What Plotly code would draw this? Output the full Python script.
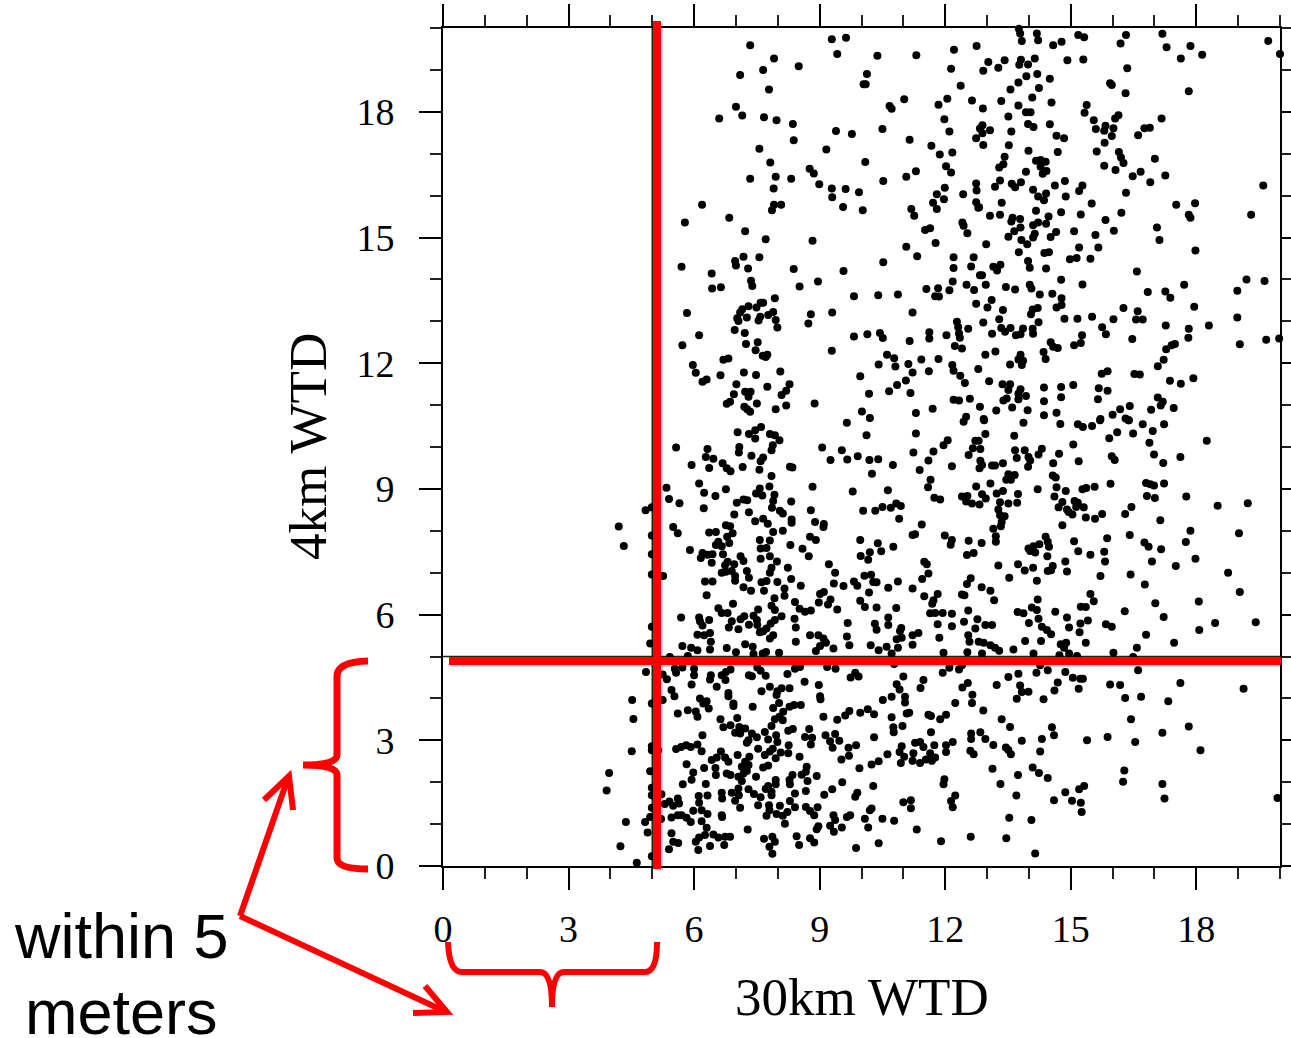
import plotly.graph_objects as go

# (30km WTD, 4km WTD), in metres
lower_left = [(4.95,5.31),(5.72,5.25),(5.93,5.21),(6.08,5.15),(6.38,5.17),(6.40,5.35),(6.78,5.20),(7.00,5.10),(7.22,5.29),(7.40,5.23),(7.42,5.06),(7.64,5.07),(7.72,5.11),(8.03,5.09),(8.43,5.35),(8.91,5.13),(9.01,5.25),(9.15,5.33),(9.33,5.19),(9.71,5.27),(10.22,5.27),(10.41,5.15),(10.60,5.23),(10.87,5.21),(10.72,5.07),(11.22,5.28),(5.42,4.99),(5.85,5.01),
(4.85,4.63),(5.25,4.57),(5.35,4.46),(5.57,4.61),(5.54,4.71),(5.72,4.74),(6.00,4.71),(6.00,4.55),(5.94,4.33),(6.40,4.55),(6.38,4.45),(6.54,4.28),(6.66,4.55),(6.75,4.44),(6.76,4.63),(6.87,4.69),(7.31,4.55),(7.38,4.53),(7.51,4.74),(7.59,4.66),(7.71,4.54),(8.23,4.58),(8.41,4.71),(8.53,4.75),(8.64,4.40),(8.98,4.32),(9.18,4.75),(9.38,4.71),(9.74,4.50),(9.85,4.61),(9.93,4.52),(10.78,4.82),(11.00,4.52),(10.84,4.34),(10.91,4.21),(11.48,4.44),(11.41,4.25),
(5.46,4.20),(5.53,4.05),(5.25,3.96),(4.99,3.88),(4.52,3.96),(4.55,3.51),(5.61,3.64),(5.85,3.72),(6.04,3.69),(6.08,3.56),(6.14,4.00),(6.30,3.93),(6.22,3.88),(6.35,3.76),(6.82,4.13),(6.82,4.05),(6.94,3.88),(6.94,3.82),(7.40,3.80),(7.61,4.17),(7.81,4.28),(7.97,4.08),(7.99,4.17),(8.09,4.24),(8.28,4.24),(8.03,3.89),(7.89,3.77),(8.28,3.80),(8.39,3.84),(8.55,3.84),(9.01,4.05),(9.02,3.98),(9.09,3.56),(9.42,3.49),(9.61,3.59),(9.71,3.70),(9.97,3.66),(10.15,3.74),(10.30,3.62),(10.51,3.96),(10.72,4.04),(11.04,4.04),(11.04,3.90),(11.08,3.64),(11.14,3.66),(10.72,3.55),(11.60,3.61),(11.66,3.58),(11.88,3.50),
(6.63,3.50),(6.70,3.31),(6.87,3.36),(7.03,3.53),(7.08,3.32),(6.98,3.18),(7.10,3.16),(7.22,3.28),(7.38,3.16),(7.50,3.07),(7.30,3.00),(7.26,2.94),(7.85,3.34),(7.69,3.20),(7.93,3.50),(8.04,3.56),(8.13,3.68),(8.12,3.48),(7.77,3.02),(7.96,3.12),(7.99,2.96),(8.25,3.23),(8.36,3.27),(8.75,3.27),(8.65,3.08),(8.82,3.06),(8.79,2.90),(9.14,3.12),(9.37,3.15),(9.25,2.98),(9.47,2.99),(9.31,2.82),(9.69,2.82),(9.87,2.88),(9.70,2.63),(9.52,2.54),(10.30,3.07),(10.62,2.67),(10.41,2.50),(10.24,2.42),(9.95,2.33),
(10.76,3.31),(10.77,3.19),(10.98,3.34),(11.66,3.19),(10.96,2.86),(10.91,2.72),(11.02,2.61),(10.94,2.46),(11.28,2.94),(11.40,2.96),(11.48,2.84),(11.24,2.69),(11.22,2.51),(11.40,2.46),(11.54,2.54),(11.68,2.51),(11.64,2.69),(11.76,2.59),(11.74,2.88),
(6.20,3.12),(6.08,2.90),(6.18,2.74),(5.57,2.79),(5.69,2.84),(5.81,2.88),(5.92,2.84),(4.51,2.74),(4.99,2.86),(4.99,2.76),(5.14,2.76),
(6.64,2.73),(6.42,2.53),(6.54,2.59),(6.74,2.59),(6.82,2.49),(7.04,2.65),(7.32,2.61),(7.53,2.80),(7.69,2.65),(7.81,2.73),(7.88,2.80),(7.95,2.57),(8.07,2.71),(8.26,2.88),(8.25,2.69),(8.52,2.61),
(5.82,2.43),(6.24,2.34),(6.51,2.34),(6.52,2.17),(6.78,2.21),(6.87,2.17),(5.98,2.23),(5.94,2.06),(5.73,1.95),(6.28,1.96),(7.22,2.49),(7.30,2.41),(7.14,2.37),(7.26,2.27),(7.18,2.21),(7.06,2.13),(7.14,2.03),(7.48,2.13),(7.65,2.35),(7.77,2.40),(4.95,2.26),(3.97,2.22),(3.91,1.80),
(8.69,2.37),(8.67,2.25),(8.57,2.18),(8.93,2.15),(8.71,2.03),(8.35,2.17),(8.28,2.05),(8.29,1.95),(7.95,2.05),(7.95,1.95),(7.77,1.91),(7.71,1.84),(7.06,1.85),(7.30,1.83),(7.43,1.72),(7.59,1.64),(7.85,1.77),(7.85,1.69),(8.41,1.73),(8.67,1.79),(9.11,1.70),(9.30,1.83),(9.54,2.00),(10.28,1.91),(9.90,1.75),(9.85,1.65),
(6.66,1.75),(6.67,1.61),(6.90,1.75),(7.07,1.69),(6.98,1.56),(7.10,1.39),(6.32,1.68),(6.11,1.67),(6.12,1.51),(5.61,1.61),(5.64,1.49),(5.41,1.54),(5.30,1.48),(5.50,1.44),(5.22,1.71),(4.99,1.69),(4.99,1.87),(4.99,1.39),
(7.53,1.45),(7.79,1.45),(7.80,1.33),(8.05,1.44),(8.29,1.55),(8.41,1.40),(8.67,1.41),(8.95,1.40),(8.77,1.31),(8.87,1.21),(7.73,1.20),(7.97,1.24),(8.12,1.20),(8.23,1.29),(8.17,1.01),
(11.00,1.52),(11.18,1.57),(11.18,1.38),(10.24,1.37),(10.20,1.33),(9.33,1.21),(9.65,1.17),(9.73,1.21),(10.08,1.13),(10.50,1.13),(10.78,1.08),(10.16,0.92),(11.32,0.87),(9.53,0.92),(9.37,1.10),(9.25,0.96),(9.34,0.82),(8.97,0.95),(8.93,0.88),
(5.98,1.32),(6.18,1.33),(6.32,1.24),(6.18,1.07),(6.30,0.91),(5.46,1.16),(5.61,1.21),(5.70,1.21),(5.82,1.15),(5.92,1.05),(6.66,1.21),(6.67,1.17),(5.21,1.12),(4.95,1.17),(4.83,1.05),(4.37,1.05),(4.89,0.80),(7.28,0.87),(5.46,0.78),(5.50,0.58),(5.62,0.55),(5.40,0.40),(4.24,0.47),(4.99,0.23),(4.63,0.08),
(6.04,0.58),(6.12,0.68),(6.26,0.74),(6.46,0.75),(6.58,0.68),(6.74,0.70),(6.86,0.70),(6.38,0.48),(6.10,0.38),(6.72,0.50),
(7.67,0.65),(7.87,0.70),(7.93,0.58),(7.80,0.46),(7.87,0.29),(8.45,0.71),(8.51,0.50),(8.77,0.66),(8.87,0.56),(9.87,0.43),(10.41,0.54)]

lower_right = [(12.58,5.35),(12.80,5.35),(12.92,5.33),(13.08,5.27),(13.19,5.21),(13.29,5.14),(11.96,5.09),(12.53,5.10),(12.88,5.07),(13.63,5.17),(13.91,5.37),(14.29,5.37),(14.11,5.07),(14.76,5.29),(14.89,5.33),(14.84,5.21),(15.36,5.33),(14.73,5.03),(14.96,5.07),(15.15,5.01),(16.02,5.09),(16.58,5.21),(16.49,4.99),(17.47,5.33),
(11.94,4.61),(12.10,4.73),(12.33,4.69),(12.40,4.79),(13.75,4.59),(14.18,4.61),(14.27,4.79),(14.45,4.67),(14.87,4.63),(13.51,4.51),(15.05,4.49),(15.23,4.47),(15.29,4.47),(16.61,4.67),(12.54,4.37),(12.41,4.26),(13.23,4.32),(13.79,4.31),(13.83,4.15),(13.99,4.16),(14.69,4.38),(14.61,4.19),(15.19,4.23),(15.94,4.33),(16.18,4.32),(17.62,4.37),(19.13,4.23),(12.65,4.09),(12.64,3.89),(12.24,3.89),(13.71,3.99),(14.35,3.98),(16.30,4.01),(16.68,4.04),(17.33,3.93),(12.91,3.71),(12.02,3.61),(13.35,3.50),(13.55,3.32),(14.55,3.31),(14.60,3.12),(16.44,3.50),(17.82,3.33),(17.19,3.18),(12.84,3.19),(12.62,3.16),(12.62,3.03),(12.96,3.03),(13.15,2.89),(13.83,2.99),(14.31,3.03),(15.39,3.00),(15.88,3.08),(16.54,2.96),(12.18,2.96),(12.02,2.88),(12.02,2.72),(12.60,2.75),(12.68,2.67),(13.45,2.83),(13.51,2.77),(13.57,2.67),(14.27,2.73),(18.10,2.76),(13.13,2.32),(14.09,2.35),(14.24,2.22),(13.74,2.17),(14.45,2.10),(16.28,2.28),(16.25,2.01),(17.19,1.96),(17.24,1.61),(11.98,2.07),(11.96,1.95),(13.32,1.96),(15.32,1.91),(15.20,1.83),(14.87,1.76),(13.70,1.68),(12.24,1.68),(12.14,1.55),(12.18,1.40),(14.60,1.57),(15.03,1.56),(15.24,1.51),(15.26,1.29),(13.53,1.15),(14.06,1.10),(12.61,0.70),(13.46,0.66),(11.90,0.59),(14.15,0.30),(19.94,1.62)]

middle_left = [(9.65,10.58),(10.12,10.28),(11.30,10.32),(7.04,10.35),(7.31,10.31),(7.46,10.40),(7.60,10.48),(7.46,10.20),(7.81,10.31),(7.93,10.28),(8.04,10.16),(5.57,9.99),(6.32,9.95),(7.08,10.00),(7.07,9.87),(7.88,10.04),(7.85,9.92),(9.06,9.99),(9.53,9.92),(11.24,9.87),(11.72,9.89),(6.28,9.76),(6.46,9.72),(7.37,9.79),(7.65,9.75),(7.59,9.66),(9.26,9.69),(9.66,9.70),(9.91,9.78),(10.19,9.69),(10.40,9.71),(10.75,9.57),(11.60,9.68),(5.94,9.57),(6.36,9.50),(6.68,9.61),(6.78,9.49),(6.87,9.42),(7.16,9.52),(7.56,9.46),(8.29,9.53),(8.35,9.51),(11.39,9.45),(7.85,9.31),(10.25,9.36),(11.65,9.22),(6.12,9.13),(5.34,9.03),(6.24,8.91),(6.76,8.99),(7.57,9.01),(7.80,9.06),(8.83,9.05),(9.79,8.94),(10.63,8.97),(11.59,9.04),(5.40,8.76),(6.51,8.83),(7.48,8.89),(7.63,8.84),(7.92,8.86),(7.89,8.71),(7.18,8.75),(7.27,8.73),(7.02,8.67),(5.65,8.66),(8.32,8.70),(11.74,8.79),(4.84,8.49),(4.99,8.56),(6.23,8.54),(7.86,8.55),(8.05,8.48),(8.12,8.41),(7.31,8.44),(6.96,8.39),(8.79,8.49),(10.04,8.48),(10.33,8.48),(10.50,8.57),(10.70,8.55),(10.83,8.65),(10.94,8.59),(10.90,8.29),(7.46,8.23),(7.65,8.29),(7.76,8.17),(8.33,8.27),(8.33,8.19),(8.89,8.21),(9.10,8.16),(9.09,8.09),(4.20,8.10),(5.50,8.09),(6.76,8.13),(6.86,8.11),(11.44,8.15),(5.61,7.94),(6.36,7.96),(6.52,7.97),(6.92,7.94),(6.79,7.86),(7.89,7.97),(8.12,8.00),(4.99,7.89),(8.77,7.86),(8.91,7.78),(11.22,7.90),(11.28,7.92),(4.32,7.64),(6.58,7.74),(6.52,7.66),(6.66,7.63),(6.84,7.71),(7.57,7.78),(7.81,7.77),(7.59,7.58),(7.73,7.59),(8.30,7.66),(8.59,7.57),(9.97,7.78),(10.39,7.70),(10.76,7.62),(5.90,7.54),(4.99,7.44),(6.20,7.47),(6.16,7.35),(6.32,7.43),(6.44,7.44),(6.69,7.44),(7.11,7.39),(7.18,7.28),(7.59,7.33),(7.81,7.39),(8.74,7.39),(9.98,7.40),(10.20,7.49),(10.47,7.51),(10.16,7.31),(6.42,7.24),(6.80,7.26),(6.74,7.18),(6.96,7.20),(7.98,7.27),(11.50,7.26),(11.56,7.20),(9.22,7.20),(6.66,7.00),(6.76,7.02),(6.90,7.04),(7.26,7.04),(7.85,7.12),(7.81,7.00),(8.24,7.12),(9.37,7.00),(11.60,6.98),(4.99,6.96),(5.26,6.92),(10.07,6.93),(10.23,6.95),(11.45,6.85),(6.98,6.92),(6.98,6.81),(7.31,6.88),(8.32,6.85),(9.82,6.79),(9.90,6.69),(10.28,6.78),(10.36,6.77),(10.87,6.79),(6.26,6.79),(6.44,6.79),(7.61,6.77),(7.73,6.80),(7.99,6.78),(8.55,6.69),(9.34,6.74),(9.57,6.68),(10.64,6.64),(11.22,6.62),(7.18,6.65),(7.36,6.57),(7.67,6.57),(8.16,6.62),(10.18,6.53),(6.30,6.46),(8.16,6.45),(7.92,6.39),(9.01,6.49),(9.10,6.54),(11.50,6.44),(11.82,6.49),(11.72,6.34),(11.69,6.26),(6.93,6.26),(8.41,6.30),(8.98,6.29),(9.26,6.36),(9.20,6.24),(9.97,6.33),(7.85,6.21),(6.58,6.15),(7.53,6.12),(7.93,6.11),(8.52,6.14),(8.79,6.10),(8.65,6.07),(9.42,6.12),(10.08,6.18),(10.36,6.17),(10.83,6.16),(6.66,6.04),(6.80,6.04),(11.64,6.03),(11.76,6.04),(5.69,5.93),(6.12,5.93),(6.14,5.84),(6.36,5.87),(6.20,5.74),(7.20,5.96),(7.11,5.89),(6.90,5.84),(7.42,5.97),(7.50,5.87),(8.09,5.96),(8.40,5.90),(7.93,5.87),(7.83,5.79),(9.67,5.80),(10.64,5.93),(10.64,5.75),(11.82,5.77),(10.32,5.78),(10.36,5.64),(10.95,5.68),(4.99,5.71),(6.83,5.69),(7.06,5.65),(7.31,5.76),(7.51,5.75),(7.73,5.67),(7.57,5.58),(7.65,5.60),(8.43,5.69),(6.08,5.52),(6.24,5.51),(6.38,5.56),(7.89,5.51),(7.81,5.43),(8.77,5.51),(8.97,5.51),(9.09,5.43),(9.65,5.48),(10.92,5.61),(11.36,5.56),(11.22,5.51),(10.96,5.45),(10.84,5.41),(11.86,5.45)]

middle_right = [(12.44,10.60),(12.93,10.64),(13.87,10.58),(14.75,10.55),(15.17,10.54),(15.29,10.48),(15.51,10.50),(15.70,10.64),(16.38,10.64),(16.72,10.54),(17.23,10.54),(16.96,10.38),(16.49,10.32),(16.11,10.35),(15.92,10.21),(12.96,10.31),(13.65,10.27),(12.06,10.16),(11.96,10.04),(12.72,10.15),(12.80,10.15),(12.66,9.97),(12.84,9.95),(12.56,9.81),(13.67,9.92),(13.90,9.92),(14.31,9.96),(14.23,9.82),(14.72,9.84),(15.06,10.06),(16.88,10.10),(18.25,10.15),(16.99,9.82),(15.98,9.78),(16.05,9.69),(17.62,9.76),(13.71,9.74),(13.99,9.76),(14.03,9.68),(12.84,9.67),(13.38,9.61),(14.58,9.61),(15.19,9.66),(17.21,9.62),(12.16,9.54),(12.88,9.57),(12.82,9.49),(13.12,9.56),(13.19,9.56),(13.98,9.53),(13.51,9.35),(13.66,9.33),(13.46,9.22),(13.57,9.22),(14.57,9.32),(14.64,9.27),(13.08,9.13),(12.74,9.06),(14.66,9.04),(15.57,9.05),(15.37,9.02),(15.28,8.99),(15.95,9.12),(16.80,9.14),(16.90,9.11),(16.99,9.08),(17.23,9.13),(14.21,8.99),(14.88,8.95),(13.38,8.95),(13.23,8.89),(13.74,8.88),(12.88,8.87),(12.40,8.82),(12.53,8.83),(12.97,8.77),(14.61,8.82),(16.82,8.83),(17.01,8.78),(17.76,8.82),(11.88,8.75),(12.50,8.70),(12.64,8.65),(12.82,8.63),(13.31,8.68),(13.51,8.65),(13.72,8.67),(14.80,8.69),(15.09,8.71),(15.17,8.67),(14.71,8.56),(15.13,8.57),(15.31,8.56),(18.51,8.60),(19.23,8.66),(16.45,8.57),(13.27,8.51),(14.91,8.51),(14.95,8.45),(15.04,8.39),(16.30,8.40),(15.75,8.40),(15.36,8.32),(15.58,8.29),(17.14,8.25),(13.31,8.37),(13.42,8.35),(13.35,8.21),(13.33,8.11),(13.15,8.05),(14.80,8.13),(17.86,8.00),(19.02,7.94),(11.99,7.89),(12.16,7.78),(12.13,7.67),(12.56,7.76),(12.87,7.71),(13.21,7.87),(13.21,7.74),(16.41,7.90),(15.87,7.82),(15.08,7.75),(14.40,7.86),(14.45,7.74),(14.48,7.62),(14.25,7.68),(14.11,7.63),(13.99,7.58),(14.03,7.52),(14.15,7.48),(16.76,7.72),(16.86,7.62),(17.16,7.56),(17.75,7.73),(15.18,7.51),(15.80,7.50),(15.47,7.43),(12.68,7.47),(12.52,7.42),(14.44,7.39),(17.98,7.33),(14.87,7.27),(15.82,7.27),(16.94,7.27),(13.27,7.17),(13.74,7.20),(14.10,7.12),(13.90,7.05),(14.57,7.16),(14.45,7.04),(14.53,7.06),(14.91,7.03),(17.51,7.16),(18.76,7.00),(16.43,6.96),(15.71,6.92),(13.53,6.88),(14.19,6.81),(12.61,6.87),(12.52,6.73),(16.77,6.72),(12.87,6.65),(13.08,6.57),(19.04,6.54),(12.40,6.48),(12.46,6.46),(15.47,6.49),(14.21,6.36),(13.17,6.34),(15.55,6.32),(18.06,6.31),(17.02,6.27),(15.24,6.19),(15.36,6.18),(14.07,6.17),(14.19,6.11),(14.63,6.07),(16.29,6.08),(12.55,6.10),(11.94,6.04),(12.16,6.02),(13.73,6.06),(13.87,6.03),(17.22,5.94),(14.91,5.93),(14.23,5.90),(12.77,5.89),(12.45,5.83),(15.41,5.86),(15.23,5.79),(14.00,5.80),(15.84,5.77),(15.98,5.71),(18.45,5.80),(19.42,5.82),(12.96,5.75),(13.12,5.75),(12.16,5.72),(12.72,5.67),(14.31,5.71),(14.43,5.63),(14.96,5.69),(18.07,5.63),(12.55,5.51),(14.53,5.53),(15.21,5.58),(16.80,5.52)]

upper_left = [(7.34,19.59),(9.29,19.73),(9.63,19.77),(9.42,19.38),(10.38,19.34),(11.31,19.35),(12.21,19.48),(12.75,19.57),(7.91,19.27),(8.50,19.09),(7.65,19.00),(7.10,18.88),(10.13,18.90),(12.14,19.03),(10.05,18.66),(10.10,18.66),(12.37,18.62),(7.79,18.53),(11.02,18.30),(12.05,18.31),(12.64,18.27),(10.67,18.14),(10.72,18.07),(11.84,18.17),(7.00,18.12),(7.15,17.91),(6.60,17.84),(7.67,17.87),(7.97,17.80),(11.98,17.82),(8.36,17.71),(9.39,17.54),(9.77,17.47),(10.50,17.59),(12.10,17.53),(12.83,17.60),(11.15,17.33),(12.74,17.37),(8.38,17.32),(7.56,17.12),(9.16,17.10),(11.67,17.19),(11.87,16.98),(12.17,17.03),(7.82,16.79),(10.09,16.80),(12.02,16.70),(12.14,16.55),(8.76,16.64),(8.86,16.53),(11.30,16.58),(11.07,16.45),(7.34,16.40),(7.95,16.45),(8.32,16.40),(10.52,16.35),(8.99,16.27),(7.90,16.17),(9.29,16.17),(9.62,16.16),(9.94,16.08),(11.99,16.19),(12.74,16.29),(12.75,16.12),(11.80,16.03),(12.43,16.03),(9.30,15.96),(11.97,15.91),(11.71,15.83),(12.74,15.84),(6.19,15.78),(7.91,15.78),(8.08,15.78),(7.86,15.65),(9.56,15.73),(10.03,15.65),(11.19,15.68),(11.80,15.68),(12.79,15.71),(11.26,15.52),(6.84,15.47),(5.78,15.36),(12.41,15.36),(12.44,15.28),(11.52,15.18),(11.64,15.22),(7.22,15.15),(12.53,15.10),(7.71,14.96),(8.83,14.92),(11.77,14.87),(11.07,14.78),(7.18,14.54),(7.56,14.53),(11.33,14.55),(12.20,14.53),(12.68,14.53),(6.98,14.44),(7.00,14.33),(10.52,14.41),(7.29,14.26),(5.70,14.30),(8.38,14.25),(9.57,14.20),(12.20,14.27),(12.62,14.31),(6.42,14.14),(12.83,14.10),(7.36,13.97),(7.39,13.84),(8.96,13.95),(12.18,13.95),(6.43,13.78),(6.64,13.81),(8.52,13.83),(11.55,13.77),(11.83,13.79),(12.10,13.74),(12.51,13.87),(12.69,13.75),(9.82,13.60),(10.40,13.62),(10.87,13.64),(11.76,13.60),(11.85,13.59),(7.93,13.55),(7.65,13.44),(7.59,13.44),(7.49,13.33),(7.30,13.36),(7.15,13.29),(7.10,13.21),(12.74,13.42),(5.83,13.20),(7.89,13.22),(7.77,13.15),(8.79,13.17),(9.30,13.21),(11.22,13.21),(7.03,13.07),(7.06,13.01),(7.26,13.09),(7.58,13.11),(7.54,13.02),(7.95,13.03),(7.99,12.85),(8.73,12.95),(12.28,12.99),(12.31,12.86),(12.55,12.82),(6.97,12.79),(7.21,12.72),(6.12,12.67),(9.82,12.64),(10.14,12.69),(10.44,12.72),(10.51,12.60),(11.62,12.74),(11.62,12.59),(12.03,12.67),(12.33,12.71),(12.35,12.61),(11.15,12.53),(5.72,12.43),(7.24,12.46),(7.52,12.50),(12.23,12.41),(12.40,12.35),(7.47,12.31),(9.29,12.30),(7.75,12.20),(7.64,12.18),(7.71,12.15),(10.61,12.20),(10.78,12.12),(6.70,12.08),(6.82,12.11),(11.43,12.09),(11.84,12.10),(5.97,11.96),(10.41,11.97),(10.81,11.92),(11.12,11.98),(12.17,11.96),(12.20,11.82),(12.79,11.86),(6.04,11.77),(7.19,11.78),(7.48,11.72),(8.06,11.80),(6.63,11.71),(11.61,11.81),(11.22,11.78),(12.36,11.70),(6.30,11.61),(6.20,11.56),(9.97,11.69),(11.06,11.59),(12.47,11.53),(7.01,11.50),(8.28,11.50),(7.75,11.44),(10.85,11.48),(7.22,11.32),(7.35,11.32),(7.30,11.20),(8.20,11.34),(8.09,11.24),(6.95,11.26),(10.18,11.27),(10.66,11.33),(11.17,11.29),(12.20,11.13),(12.33,11.11),(12.59,11.15),(12.83,10.96),(6.86,11.08),(6.78,11.03),(7.50,11.04),(8.20,10.99),(8.88,11.04),(7.20,10.96),(7.27,10.90),(7.34,10.84),(7.95,10.90),(10.01,10.85),(10.20,10.69),(11.70,10.91),(11.30,10.81),(12.50,10.72)]

upper_right = [(13.76,19.98),(13.79,19.87),(13.83,19.69),(14.19,19.87),(14.22,19.71),(14.58,19.59),(14.78,19.67),(15.18,19.83),(15.32,19.78),(16.32,19.83),(16.19,19.63),(17.19,19.86),(17.29,19.54),(17.86,19.57),(19.72,19.69),(20.0,19.38),(17.63,19.27),(18.14,19.36),(13.03,19.19),(13.42,19.23),(13.81,19.24),(13.77,19.12),(13.98,19.13),(14.14,19.27),(14.92,19.23),(15.30,19.25),(13.27,19.05),(12.91,18.98),(16.35,19.04),(14.20,18.90),(13.94,18.85),(14.50,18.79),(13.75,18.70),(15.94,18.68),(15.98,18.64),(14.24,18.57),(13.56,18.53),(17.82,18.49),(16.31,18.44),(14.08,18.34),(13.34,18.26),(14.54,18.22),(13.75,18.15),(15.38,18.16),(12.90,18.08),(13.93,17.99),(14.04,17.99),(15.33,17.98),(16.14,17.92),(16.06,17.84),(13.51,17.89),(17.17,17.84),(15.55,17.80),(12.89,17.68),(13.98,17.71),(14.11,17.64),(14.50,17.70),(15.83,17.67),(15.60,17.59),(15.80,17.55),(16.02,17.61),(16.76,17.61),(16.89,17.62),(13.07,17.56),(12.89,17.49),(13.58,17.53),(14.66,17.43),(14.84,17.37),(15.98,17.42),(16.61,17.44),(15.81,17.26),(12.91,17.21),(13.52,17.20),(13.99,17.07),(14.69,17.04),(15.62,17.05),(16.15,17.04),(16.20,16.91),(13.42,16.93),(17.01,16.88),(16.26,16.78),(14.17,16.83),(14.28,16.85),(14.40,16.81),(13.39,16.75),(13.29,16.67),(14.28,16.69),(15.80,16.71),(13.93,16.57),(14.42,16.59),(14.33,16.52),(16.07,16.61),(16.67,16.57),(16.48,16.46),(17.26,16.48),(13.31,16.36),(13.81,16.32),(14.86,16.35),(16.90,16.32),(19.60,16.24),(13.19,16.21),(13.59,16.28),(13.67,16.20),(14.62,16.24),(15.28,16.24),(14.10,16.14),(15.20,16.11),(16.32,16.07),(14.41,16.05),(14.22,15.98),(14.88,15.98),(14.36,15.89),(13.35,15.83),(15.50,15.81),(17.52,15.78),(17.97,15.82),(12.81,15.72),(14.17,15.64),(14.77,15.60),(16.21,15.59),(13.07,15.52),(13.31,15.54),(14.47,15.50),(15.24,15.55),(19.31,15.54),(17.82,15.54),(17.86,15.47),(13.61,15.47),(13.79,15.44),(13.58,15.38),(15.83,15.42),(14.22,15.36),(14.41,15.33),(14.10,15.29),(13.80,15.24),(17.06,15.24),(13.65,15.15),(14.65,15.13),(15.08,15.15),(16.03,15.16),(14.14,15.09),(14.10,15.00),(14.52,15.01),(15.59,15.06),(13.51,15.02),(13.82,14.94),(13.96,14.84),(17.12,14.94),(12.98,14.84),(15.20,14.76),(15.66,14.76),(13.76,14.65),(14.37,14.63),(14.48,14.65),(17.98,14.69),(14.98,14.48),(15.14,14.51),(15.47,14.49),(13.98,14.44),(13.32,14.35),(13.15,14.30),(14.02,14.28),(14.41,14.26),(13.24,14.21),(16.58,14.19),(12.88,14.10),(14.77,13.99),(19.20,14.00),(19.63,13.96),(12.97,13.87),(15.28,13.88),(17.71,13.87),(13.45,13.82),(14.02,13.87),(14.06,13.78),(13.67,13.76),(18.98,13.73),(16.84,13.70),(17.26,13.71),(14.26,13.64),(14.56,13.66),(17.38,13.56),(14.78,13.55),(13.11,13.51),(14.78,13.39),(14.66,13.33),(13.01,13.33),(17.95,13.35),(14.21,13.32),(13.38,13.27),(14.09,13.28),(14.05,13.17),(16.26,13.32),(16.60,13.24),(13.29,13.05),(15.51,13.11),(14.85,13.06),(15.16,13.06),(16.02,13.05),(16.56,13.04),(16.72,13.04),(18.98,13.09),(12.91,12.97),(14.23,12.98),(17.27,12.90),(18.30,12.90),(15.75,12.86),(13.34,12.84),(13.56,12.84),(13.86,12.83),(14.09,12.82),(13.43,12.75),(17.82,12.82),(13.12,12.70),(13.69,12.67),(13.80,12.69),(14.10,12.70),(15.27,12.67),(15.84,12.69),(17.81,12.61),(16.47,12.58),(19.67,12.56),(19.98,12.59),(19.04,12.45),(15.24,12.48),(15.08,12.43),(14.52,12.50),(14.58,12.39),(14.69,12.36),(17.49,12.46),(17.41,12.43),(17.28,12.33),(13.20,12.28),(14.35,12.27),(12.96,12.20),(13.80,12.20),(14.40,12.10),(13.75,12.09),(13.86,12.06),(17.22,12.08),(13.83,11.96),(13.55,11.97),(17.08,11.93),(15.88,11.81),(15.74,11.75),(16.52,11.74),(16.65,11.73),(17.93,11.64),(13.05,11.57),(17.37,11.58),(17.63,11.51),(13.37,11.50),(13.55,11.50),(15.06,11.48),(14.36,11.42),(14.77,11.43),(13.80,11.38),(13.51,11.36),(15.67,11.40),(15.88,11.34),(13.75,11.27),(13.93,11.22),(14.77,11.19),(17.08,11.18),(13.75,11.14),(13.47,11.16),(13.39,11.11),(15.65,11.14),(14.36,11.09),(17.20,11.08),(17.15,10.99),(16.41,10.98),(13.60,10.94),(16.18,10.90),(17.46,10.93),(13.22,10.87),(13.97,10.88),(16.92,10.89),(14.66,10.82),(14.36,10.76),(16.00,10.77),(12.92,10.67),(15.71,10.67),(16.31,10.68),(16.39,10.64)]

x_title = "30km WTD"
y_title = "4km WTD"
tick_values = [0, 3, 6, 9, 12, 15, 18]
threshold = 5

points = lower_left + lower_right + middle_left + middle_right + upper_left + upper_right
x_values = [p[0] for p in points]
y_values = [p[1] for p in points]

W, H = 1291, 1038
L, R, T, B = 443, 1280, 28, 866
SERIF = "Liberation Serif"
RED = "#ff0000"

def px(x):
    return x / W
def py(y):
    return 1 - y / H
def path(pts):
    return " ".join(("M" if i == 0 else "L") + f"{px(a):.5f},{py(b):.5f}" for i, (a, b) in enumerate(pts))
def curve(start, *segs):
    s = f"M{px(start[0]):.5f},{py(start[1]):.5f}"
    for c, e in segs:
        s += f" Q{px(c[0]):.5f},{py(c[1]):.5f} {px(e[0]):.5f},{py(e[1]):.5f}"
    return s

def red_path(p, w):
    return dict(type="path", xref="paper", yref="paper", path=p, line=dict(color=RED, width=w), layer="above")

left_brace = curve((368,661), ((337,662),(337,676)), ((337,720),(337,755)), ((337,765),(303,765)),
                   ((337,765),(337,775)), ((337,820),(337,858)), ((337,869),(368,869)))
bottom_brace = curve((448,942), ((449,972),(462,972)), ((500,972),(540,972)), ((552,972),(552,1007)),
                     ((552,972),(564,972)), ((610,972),(645,972)), ((657,972),(657,942)))
arrow_up = path([(240,916),(288,778)])
arrow_up_head = path([(264,800),(289,776),(293,810)])
arrow_down = path([(240,916),(444,1011)])
arrow_down_head = path([(425,986),(447,1012),(413,1013)])

shapes = [
    dict(type="line", xref="x", yref="y", x0=threshold, x1=threshold, y0=0, y1=20, line=dict(color="#222222", width=1.5), layer="below"),
    dict(type="line", xref="x", yref="y", x0=0, x1=20, y0=threshold, y1=threshold, line=dict(color="#222222", width=1.5), layer="below"),
    dict(type="line", xref="paper", yref="paper", x0=px(659), x1=px(659), y0=py(23), y1=py(870), line=dict(color="rgba(0,0,0,0.13)", width=8), layer="above"),
    dict(type="line", xref="paper", yref="paper", x0=px(450), x1=px(1282), y0=py(663), y1=py(663), line=dict(color="rgba(0,0,0,0.13)", width=8), layer="above"),
    dict(type="line", xref="paper", yref="paper", x0=px(657), x1=px(657), y0=py(21), y1=py(869), line=dict(color=RED, width=8), layer="above"),
    dict(type="line", xref="paper", yref="paper", x0=px(449), x1=px(1281), y0=py(661), y1=py(661), line=dict(color=RED, width=8), layer="above"),
    red_path(left_brace, 7), red_path(bottom_brace, 6),
    red_path(arrow_up, 6), red_path(arrow_up_head, 6),
    red_path(arrow_down, 6), red_path(arrow_down_head, 6),
]

axis = dict(range=[0, 20], tickmode="array", tickvals=tick_values, ticktext=[str(v) for v in tick_values],
            showgrid=False, zeroline=False, showline=True, linecolor="black", linewidth=2, mirror="ticks",
            ticks="outside", ticklen=22, tickwidth=2, tickcolor="black",
            tickfont=dict(family=SERIF, size=38, color="black"), automargin=False,
            minor=dict(dtick=1, tick0=0, ticks="outside", ticklen=11, tickwidth=1.5, tickcolor="#222222", showgrid=False))

fig = go.Figure(go.Scatter(x=x_values, y=y_values, mode="markers", cliponaxis=False,
                           marker=dict(color="black", size=8, line=dict(width=0))))
fig.update_layout(
    width=W, height=H, autosize=False, showlegend=False,
    margin=dict(l=0, r=0, t=0, b=0, pad=0),
    paper_bgcolor="white", plot_bgcolor="white",
    xaxis={**axis, "domain": [px(L), px(R)], "anchor": "y", "ticklabelstandoff": 6},
    yaxis={**axis, "domain": [py(B), py(T)], "anchor": "x", "ticklabelstandoff": 17},
    shapes=shapes,
    annotations=[
        dict(text=x_title, xref="paper", yref="paper", x=px(862), y=py(997), showarrow=False, xanchor="center", yanchor="middle",
             font=dict(family=SERIF, size=53, color="black")),
        dict(text=y_title, xref="paper", yref="paper", x=px(308), y=py(447), showarrow=False, textangle=-90, xanchor="center", yanchor="middle",
             font=dict(family=SERIF, size=53, color="black")),
        dict(text="within 5", xref="paper", yref="paper", x=px(121), y=py(936), showarrow=False, xanchor="center", yanchor="middle",
             font=dict(family="Liberation Sans", size=63, color="black")),
        dict(text="meters", xref="paper", yref="paper", x=px(121), y=py(1012), showarrow=False, xanchor="center", yanchor="middle",
             font=dict(family="Liberation Sans", size=63, color="black")),
    ],
)
fig.write_html("out.html", config={"displayModeBar": False},
               post_script="document.body.style.margin='0';document.documentElement.style.overflow='hidden';")
